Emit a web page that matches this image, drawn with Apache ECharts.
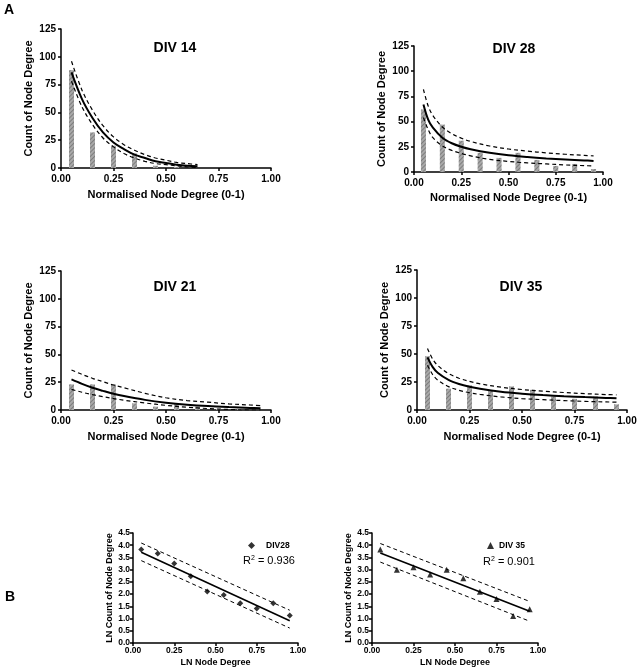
<!DOCTYPE html>
<html><head><meta charset="utf-8">
<script src="https://cdn.jsdelivr.net/npm/echarts@6/dist/echarts.min.js"></script>
<style>html,body{margin:0;padding:0;background:#fff}#c{width:640px;height:672px}</style>
</head><body><div id="c"></div>
<script>
// ---- Data ----
const bins = [0.05,0.15,0.25,0.35,0.45,0.55,0.65,0.75,0.85,0.95];
const div14Counts = [88,32,20,13,2,1,0,0,0,0];
const div28Counts = [62,47,31,19,14,19,12,6,8,3];
const div21Counts = [23,23,23,6,3,6,3,1,1,0];
const div35Counts = [48,19,22,17,21,18,12,10,12,5];

const div14FitX = [0.05,0.1,0.15,0.2,0.25,0.3,0.35,0.4,0.45,0.5,0.55,0.6,0.65];
const div14Fit   = [86,62,45,32,23,17,12,9,6,4.5,3,2,1.5];
const div14Upper = [96,70,52,38,28,21,16,12,9,7,5,4,3];
const div14Lower = [78,55,39,27,19,13,9,6,4,3,2,1,0.5];

const powFitX = [0.05,0.075,0.1,0.15,0.2,0.25,0.3,0.4,0.5,0.6,0.7,0.8,0.9,0.95];
const div28Fit   = [67,52,44,34,28.5,25,22.5,19,16.5,14.8,13.5,12.5,11.5,11];
const div28Upper = [82,65.5,56,44.6,38,33.6,30.3,25.8,22.8,20.7,19,17.6,16.5,16];
const div28Lower = [54,42,34,26,21.5,18.5,16,12.5,10.5,9,8,7,6.3,6];
const div35Fit   = [47,38.3,33,26.9,23.2,20.7,18.9,16.3,14.6,13.3,12.3,11.5,10.8,10.5];
const div35Upper = [55,45.3,39.5,32.5,28.4,25.5,23.4,20.4,18.3,16.8,15.6,14.6,13.8,13.5];
const div35Lower = [40,31.5,26.5,20.9,17.6,15.4,13.9,11.7,10.2,9.2,8.4,7.7,7.2,7];

const div21FitX = [0.05,0.1,0.15,0.2,0.25,0.3,0.4,0.5,0.6,0.7,0.8,0.9,0.95];
const div21Fit   = [27.5,23.5,20,17.2,14.6,12.5,9.1,6.6,4.8,3.5,2.6,1.9,1.6];
const div21Upper = [36,32,28.5,25.5,22.5,20,15,11,8.5,7,5.5,4.5,4];
const div21Lower = [18.5,16,13.8,12,10.3,8.8,6.3,4.2,2.5,1.3,0.5,0,0];

const lnX = [0.05,0.15,0.25,0.35,0.45,0.55,0.65,0.75,0.85,0.95];
const div28Ln = [3.82,3.66,3.25,2.73,2.11,1.96,1.63,1.41,1.63,1.12];
const div35Ln = [3.82,3.0,3.1,2.8,3.0,2.65,2.1,1.8,1.1,1.38];
const regX = [0.05,0.95];
const div28Reg = [3.71,0.91], div28RegUp = [4.09,1.34], div28RegLo = [3.37,0.61];
const div35Reg = [3.68,1.30], div35RegUp = [4.07,1.70], div35RegLo = [3.31,0.89];

const panelTitles = ['DIV 14','DIV 28','DIV 21','DIV 35'];
const r2Texts = ['0.936','0.901'];

// ---- Chart ----
const FONT = '"Liberation Sans", Arial, sans-serif';
const zip = (xs, ys) => xs.map((x,i) => [x, ys[i]]);

const grids = [
  {left:61, top:29, width:210, height:139},
  {left:414, top:46, width:189, height:126},
  {left:61, top:271, width:210, height:139},
  {left:417, top:270, width:210, height:140},
  {left:133, top:533, width:165, height:110},
  {left:372, top:533, width:166, height:110}
];

function axisBase(big){
  return {
    axisLine:{onZero:false, lineStyle:{color:'#000', width:1.5}},
    axisTick:{show:true, length:3, lineStyle:{color:'#000', width:1.5}},
    splitLine:{show:false},
    nameTextStyle:{color:'#000', fontWeight:'bold', fontFamily:FONT, fontSize: big?11:9},
    axisLabel:{color:'#000', fontWeight:'bold', fontFamily:FONT, fontSize: big?10:8.5}
  };
}
const xAxes = [], yAxes = [];
for (let g=0; g<6; g++){
  const big = g<4;
  const xa = Object.assign(axisBase(big), {
    gridIndex:g, type:'value', min:0, max:1, interval:0.25,
    name: big ? 'Normalised Node Degree (0-1)' : 'LN Node Degree',
    nameLocation:'middle', nameGap: big ? (g===1?20:21) : 15
  });
  xa.axisLabel.formatter = v => v.toFixed(2);
  xa.axisLabel.margin = big ? 6 : 3;
  const ya = Object.assign(axisBase(big), {
    gridIndex:g, type:'value', min:0,
    max: big?125:4.5, interval: big?25:0.5,
    name: big ? 'Count of Node Degree' : 'LN Count of Node Degree',
    nameLocation:'middle', nameGap: big ? 27 : 19
  });
  ya.axisLabel.formatter = big ? (v => String(v)) : (v => v.toFixed(1));
  ya.axisLabel.margin = big ? 5 : 3;
  if (!big) ya.nameTextStyle.fontSize = 9;
  xAxes.push(xa); yAxes.push(ya);
}

const hatch = {
  color:'#a9a9a9',
  decal:{symbol:'rect', symbolSize:1, dashArrayX:[1,0], dashArrayY:[1,2], rotation:-Math.PI/4, color:'rgba(90,90,90,0.55)'}
};
function bars(g, counts){
  return {type:'bar', xAxisIndex:g, yAxisIndex:g, data: zip(bins, counts), barWidth:5,
    itemStyle:hatch, silent:true, z:1};
}
function curve(g, xs, ys, dashed){
  return {type:'line', xAxisIndex:g, yAxisIndex:g, data: zip(xs, ys), smooth: dashed===null?false:0.35,
    showSymbol:false, symbol:'none', silent:true, z:3,
    lineStyle:{color:'#000', width: dashed ? 1.2 : 2, type: dashed ? [4,3] : 'solid'}};
}

const series = [
  bars(0, div14Counts), curve(0, div14FitX, div14Fit, false), curve(0, div14FitX, div14Upper, true), curve(0, div14FitX, div14Lower, true),
  bars(1, div28Counts), curve(1, powFitX, div28Fit, false), curve(1, powFitX, div28Upper, true), curve(1, powFitX, div28Lower, true),
  bars(2, div21Counts), curve(2, div21FitX, div21Fit, false), curve(2, div21FitX, div21Upper, true), curve(2, div21FitX, div21Lower, true),
  bars(3, div35Counts), curve(3, powFitX, div35Fit, false), curve(3, powFitX, div35Upper, true), curve(3, powFitX, div35Lower, true),
  {type:'scatter', name:'DIV28', xAxisIndex:4, yAxisIndex:4, data: zip(lnX, div28Ln), symbol:'diamond', symbolSize:6, itemStyle:{color:'#000'}, z:4},
  {type:'line', xAxisIndex:4, yAxisIndex:4, data: zip(regX, div28Reg), symbol:'none', lineStyle:{color:'#000', width:1.6}},
  {type:'line', xAxisIndex:4, yAxisIndex:4, data: zip(regX, div28RegUp), symbol:'none', lineStyle:{color:'#000', width:1, type:[4,3]}},
  {type:'line', xAxisIndex:4, yAxisIndex:4, data: zip(regX, div28RegLo), symbol:'none', lineStyle:{color:'#000', width:1, type:[4,3]}},
  {type:'scatter', name:'DIV 35', xAxisIndex:5, yAxisIndex:5, data: zip(lnX, div35Ln), symbol:'triangle', symbolSize:6, itemStyle:{color:'#000'}, z:4},
  {type:'line', xAxisIndex:5, yAxisIndex:5, data: zip(regX, div35Reg), symbol:'none', lineStyle:{color:'#000', width:1.6}},
  {type:'line', xAxisIndex:5, yAxisIndex:5, data: zip(regX, div35RegUp), symbol:'none', lineStyle:{color:'#000', width:1, type:[4,3]}},
  {type:'line', xAxisIndex:5, yAxisIndex:5, data: zip(regX, div35RegLo), symbol:'none', lineStyle:{color:'#000', width:1, type:[4,3]}}
];

const titlePos = [[170,36],[509,37],[170,275],[516,275]];
const titles = panelTitles.map((t,i) => ({text:t, left:titlePos[i][0], top:titlePos[i][1], textAlign:'center',
  textStyle:{fontFamily:FONT, fontWeight:'bold', fontSize:14, color:'#000'}}));

const legendText = {fontFamily:FONT, fontWeight:'bold', fontSize:8.5, color:'#000'};
const option = {
  animation:false,
  backgroundColor:'#fff',
  title: titles,
  grid: grids,
  xAxis: xAxes,
  yAxis: yAxes,
  legend: [
    {data:[{name:'DIV28', icon:'diamond'}], left:243, top:536, itemWidth:7, itemHeight:7, itemGap:0, textStyle:Object.assign({padding:[0,0,0,6]}, legendText), selectedMode:false},
    {data:[{name:'DIV 35', icon:'triangle'}], left:482, top:536, itemWidth:7, itemHeight:7, itemGap:0, textStyle:Object.assign({padding:[0,0,0,0]}, legendText), selectedMode:false}
  ],
  graphic: [
    {type:'text', left:4, top:3, style:{text:'A', font:'bold 14px '+FONT, fill:'#000'}},
    {type:'text', left:5, top:590, style:{text:'B', font:'bold 14px '+FONT, fill:'#000'}},
    {type:'text', left:243, top:555, style:{text:'{a|R}{s|2}{a| = '+r2Texts[0]+'}', rich:{a:{font:'11px '+FONT, fill:'#000', lineHeight:12}, s:{font:'7px '+FONT, fill:'#000', verticalAlign:'top', lineHeight:12}}}},
    {type:'text', left:483, top:556, style:{text:'{a|R}{s|2}{a| = '+r2Texts[1]+'}', rich:{a:{font:'11px '+FONT, fill:'#000', lineHeight:12}, s:{font:'7px '+FONT, fill:'#000', verticalAlign:'top', lineHeight:12}}}}
  ],
  series: series
};
const chart = echarts.init(document.getElementById('c'), null, {renderer:'canvas'});
chart.setOption(option);
</script>
</body></html>
